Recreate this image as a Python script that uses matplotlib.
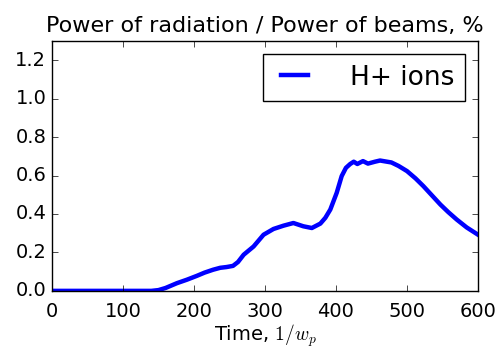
import numpy as np
import matplotlib
matplotlib.use("Agg")
import matplotlib.pyplot as plt

# values
time = [0, 50, 100, 140, 150, 160, 176, 190, 204, 215, 227, 237, 246, 255,
        262, 270, 284, 298, 312, 326, 340, 354, 366, 378, 385, 392, 401, 408,
        414, 420, 425, 430, 438, 445, 455, 462, 470, 478, 488, 500, 512, 523,
        535, 547, 558, 570, 584, 600]
power = [0.0, 0.0, 0.0, 0.0, 0.004, 0.015, 0.04, 0.058, 0.078, 0.095, 0.11,
         0.12, 0.124, 0.13, 0.15, 0.188, 0.231, 0.292, 0.322, 0.339, 0.353,
         0.336, 0.327, 0.35, 0.38, 0.423, 0.51, 0.597, 0.64, 0.66, 0.672,
         0.66, 0.675, 0.662, 0.672, 0.678, 0.673, 0.668, 0.65, 0.623, 0.585,
         0.545, 0.497, 0.449, 0.41, 0.371, 0.33, 0.292]

plt.style.use('classic')
fig = plt.figure(figsize=(4.99, 3.53), dpi=100, facecolor='white')
ax = fig.add_axes([0.104, 0.176, 0.854, 0.708])

ax.plot(time, power, color='blue', lw=3.2, label='H+ ions')
ax.set_xlim(0, 600)
ax.set_ylim(0, 1.3)
ax.set_xticks(np.arange(0, 601, 100))
ax.set_yticks(np.arange(0, 1.21, 0.2))
ax.tick_params(labelsize=14)
ax.tick_params(axis='x', pad=8)
ax.set_title('Power of radiation / Power of beams, %', fontsize=16, y=1.01)
ax.set_xlabel('Time, $1/w_p$', fontsize=14, labelpad=1)
ax.legend(loc='upper right', fontsize=19, numpoints=2, handlelength=1.6,
          handletextpad=1.3)

fig.savefig('out.png', dpi=100, facecolor='white')
